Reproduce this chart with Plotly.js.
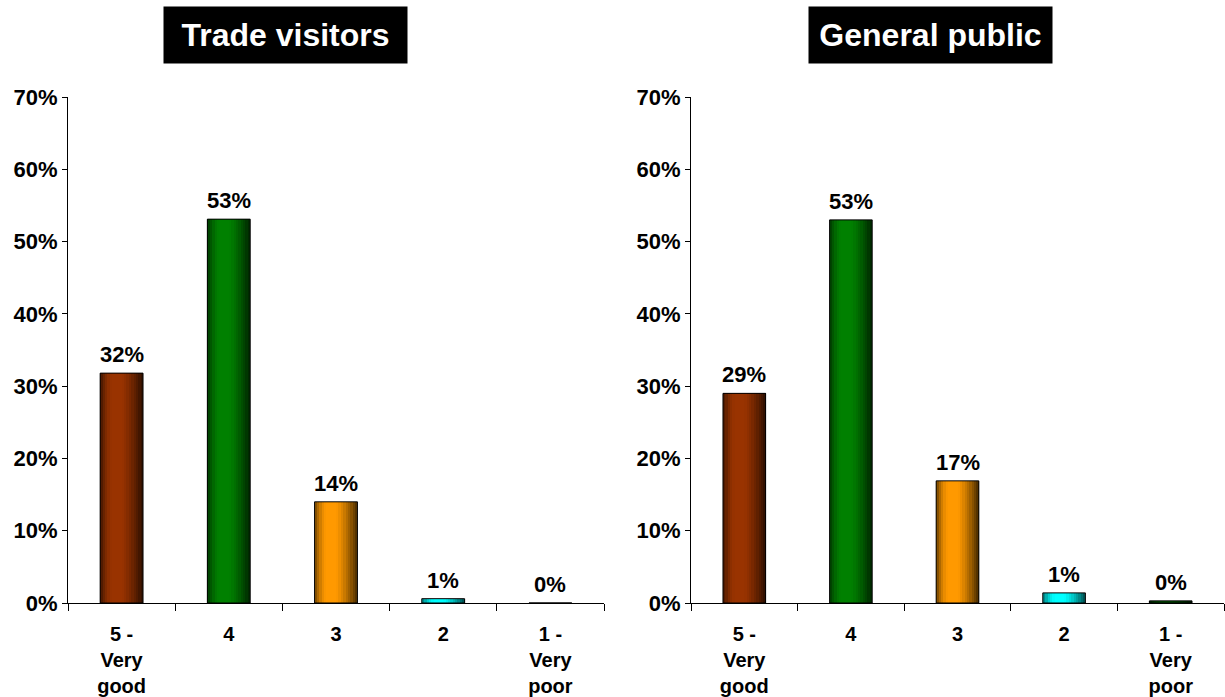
<!DOCTYPE html>
<html>
<head>
<meta charset="utf-8">
<script src="https://cdn.plot.ly/plotly-3.0.1.min.js"></script>
<style>html,body{margin:0;padding:0;background:#fff;}#chart{width:1225px;height:697px;}</style>
</head>
<body>
<div id="chart"></div>
<script>
// ---- data ----
const categories = ['5 -<br>Very<br>good', '4', '3', '2', '1 -<br>Very<br>poor'];
const tradeValues = [31.8, 53.1, 14.0, 0.6, 0.0];
const tradeLabels = ['32%', '53%', '14%', '1%', '0%'];
const publicValues = [29.0, 53.0, 16.9, 1.4, 0.3];
const publicLabels = ['29%', '53%', '17%', '1%', '0%'];
const panelTitles = ['Trade visitors', 'General public'];
const yTicks = [0, 10, 20, 30, 40, 50, 60, 70];
const yTickLabels = ['0%', '10%', '20%', '30%', '40%', '50%', '60%', '70%'];

// ---- style ----
const baseColors = [[153, 51, 0], [0, 128, 0], [255, 153, 0], [0, 255, 255], [0, 80, 0]];
const FONT = 'Liberation Sans, Arial, sans-serif';
const BARW = 0.4;
const NSTRIP = 18;

function shade(t) {
  // dark-light-dark horizontal profile
  if (t < 0.3) return 0.45 + 0.55 * Math.sin((t / 0.3) * Math.PI / 2);
  if (t < 0.5) return 1.0;
  const u = (t - 0.5) / 0.5;
  return 1.0 - 0.72 * Math.pow(u, 1.3);
}
function rgb(c, f) {
  return 'rgb(' + c.map(v => Math.round(v * f)).join(',') + ')';
}

const traces = [];
const annotations = [];
function addPanel(values, labels, xa, ya) {
  const step = BARW / NSTRIP;
  for (let i = 0; i < NSTRIP; i++) {
    const off = -BARW / 2 + i * step;
    const w = Math.min(step * 1.6, BARW / 2 - off);
    const t = (i + 0.5) / NSTRIP;
    traces.push({
      type: 'bar', x: categories, y: values, xaxis: xa, yaxis: ya,
      width: w, offset: off,
      marker: { color: baseColors.map(c => rgb(c, shade(t))), line: { width: 0 } },
      hoverinfo: 'skip', showlegend: false
    });
  }
  traces.push({
    type: 'bar', x: categories, y: values, xaxis: xa, yaxis: ya,
    width: BARW, offset: -BARW / 2,
    marker: { color: 'rgba(0,0,0,0)', line: { color: '#000', width: 1 } },
    showlegend: false
  });
  categories.forEach((c, i) => {
    annotations.push({
      xref: xa, yref: ya, x: i, y: values[i], text: labels[i],
      showarrow: false, xanchor: 'center', yanchor: 'bottom', yshift: 4,
      font: { family: FONT, size: 22, color: '#000', weight: 'bold' }
    });
  });
}
addPanel(tradeValues, tradeLabels, 'x', 'y');
addPanel(publicValues, publicLabels, 'x2', 'y2');

const H = 697, W = 1225;
const yDom = [(H - 603) / H, (H - 97) / H];
function xAxis(dom) {
  return {
    domain: dom, type: 'category', showgrid: false, zeroline: false,
    showline: true, linecolor: '#000', linewidth: 1,
    ticks: 'outside', tickson: 'boundaries', ticklen: 7, tickcolor: '#000',
    tickfont: { family: FONT, size: 20, color: '#000', weight: 'bold' },
    automargin: false, fixedrange: true, ticklabelstandoff: 13
  };
}
function yAxis(anchor) {
  return {
    domain: yDom, anchor: anchor, range: [0, 70], tickmode: 'array',
    tickvals: yTicks, ticktext: yTickLabels,
    showgrid: false, zeroline: false, showline: true, linecolor: '#000', linewidth: 1,
    ticks: 'outside', ticklen: 5, tickcolor: '#000',
    tickfont: { family: FONT, size: 22, color: '#000', weight: 'bold' },
    automargin: false, fixedrange: true
  };
}

panelTitles.forEach((t, i) => {
  annotations.push({
    text: t, xref: 'paper', yref: 'paper', x: (i === 0 ? 285.5 : 930) / W, y: (H - 35) / H,
    xanchor: 'center', yanchor: 'middle', showarrow: false, width: 241, height: 54,
    bgcolor: '#000', font: { family: FONT, size: 32, color: '#fff', weight: 'bold' }
  });
});

const layout = {
  width: W, height: H,
  margin: { l: 0, r: 0, t: 0, b: 0 },
  paper_bgcolor: '#fff', plot_bgcolor: '#fff',
  barmode: 'overlay', bargap: 0,
  xaxis: Object.assign(xAxis([68 / W, 604 / W]), { anchor: 'y' }),
  yaxis: yAxis('x'),
  xaxis2: Object.assign(xAxis([691 / W, 1224 / W]), { anchor: 'y2' }),
  yaxis2: yAxis('x2'),
  annotations: annotations,
  showlegend: false
};

Plotly.newPlot('chart', traces, layout, { displayModeBar: false, staticPlot: true });
</script>
</body>
</html>
